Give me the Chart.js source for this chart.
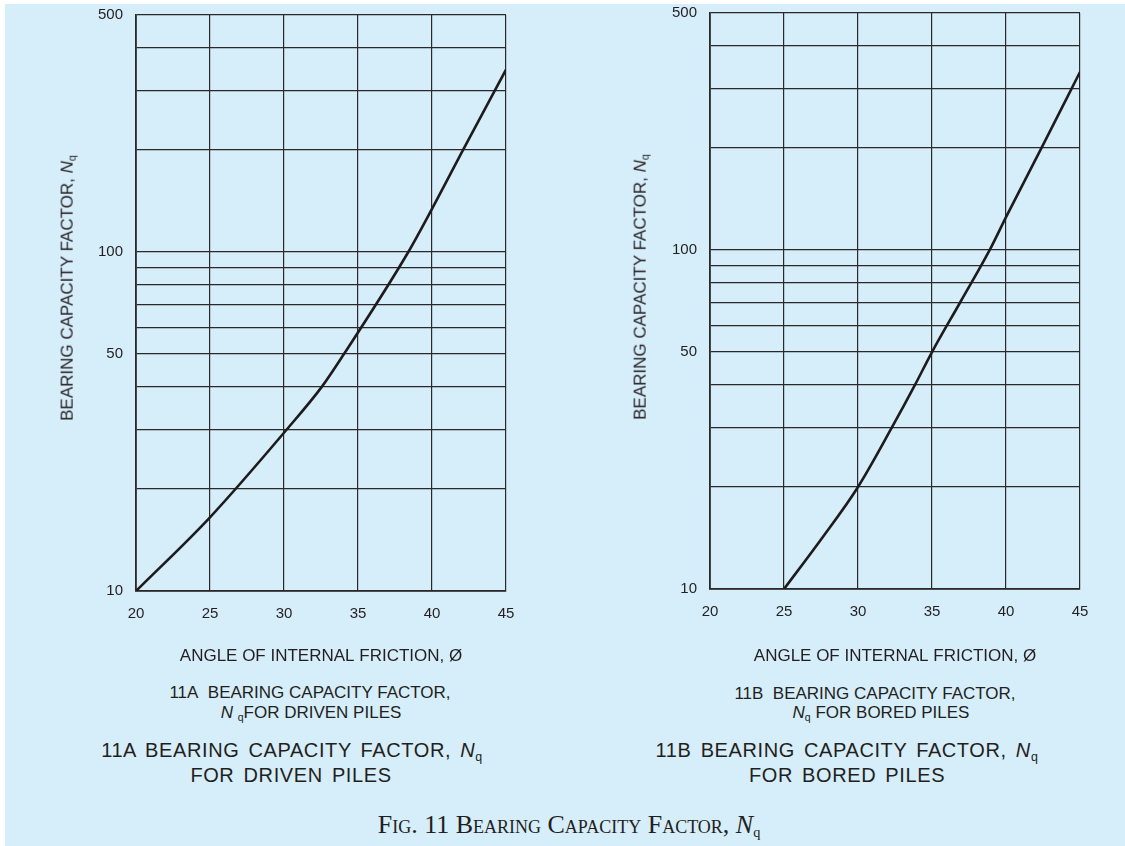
<!DOCTYPE html>
<html>
<head>
<meta charset="utf-8">
<script src="https://cdn.jsdelivr.net/npm/chart.js@4.4.0/dist/chart.umd.min.js"></script>
<style>
  html, body { margin: 0; padding: 0; background: #fff; }
  body { width: 1125px; height: 846px; position: relative; overflow: hidden;
         font-family: "Liberation Sans", Arial, sans-serif; color: #231f20; }
  #bg { position: absolute; left: 5px; top: 4px; right: 0; bottom: 0; background: #d6edfa; }
  canvas { position: absolute; top: 0; }
  .t { position: absolute; white-space: nowrap; line-height: 1; transform: translate(-50%, -50%); }
  .ytitle { font-size: 17px; transform: translate(-50%, -50%) rotate(-90deg); }
  .small { font-size: 17px; }
  .big { font-size: 20px; letter-spacing: 0.6px; word-spacing: 3px; }
  .t sub { font-size: 62%; vertical-align: -0.3em; font-style: normal; font-variant: normal; }
  .cap { font-family: "Liberation Serif", "Times New Roman", serif; font-variant: small-caps; font-size: 26px; }
  .cap sub { font-family: "Liberation Serif", "Times New Roman", serif; font-size: 55%; }
</style>
</head>
<body>
<div id="bg"></div>
<canvas id="driven" width="560" height="680" style="left:0px"></canvas>
<canvas id="bored" width="560" height="680" style="left:565px"></canvas>

<div class="t ytitle" style="left:68px; top:288px">BEARING CAPACITY FACTOR, <i>N</i><sub>q</sub></div>
<div class="t ytitle" style="left:641px; top:287px">BEARING CAPACITY FACTOR, <i>N</i><sub>q</sub></div>

<div class="t small" style="left:310px; top:692px">11A&nbsp; BEARING CAPACITY FACTOR,</div>
<div class="t small" style="left:311px; top:713px"><i>N</i> <sub>q</sub>FOR DRIVEN PILES</div>
<div class="t big" style="left:292px; top:752px">11A BEARING CAPACITY FACTOR, <i>N</i><sub>q</sub></div>
<div class="t big" style="left:291px; top:775px">FOR DRIVEN PILES</div>

<div class="t small" style="left:875px; top:693px">11B&nbsp; BEARING CAPACITY FACTOR,</div>
<div class="t small" style="left:881px; top:713px"><i>N</i><sub>q</sub> FOR BORED PILES</div>
<div class="t big" style="left:847px; top:752px">11B BEARING CAPACITY FACTOR, <i>N</i><sub>q</sub></div>
<div class="t big" style="left:847px; top:775px">FOR BORED PILES</div>

<div class="t cap" style="left:569px; top:826px">Fig. 11 Bearing Capacity Factor, <i>N</i><sub>q</sub></div>

<script>
// angle of internal friction (deg) and Nq
const drivenAngle = [20, 25, 30.2, 32.55, 34.05, 38.4, 40, 42.1, 45];
const drivenNq    = [10, 16.5, 30, 40, 50, 100, 134, 200, 345];

const boredAngle = [25, 27.5, 30, 32.3, 33.85, 35, 36.9, 38.9, 40, 42.4, 45];
const boredNq    = [10, 14, 20, 30, 40, 50, 70, 100, 125, 200, 335];

const angleTicks = [20, 25, 30, 35, 40, 45];
const nqGrid = [10, 20, 30, 40, 50, 60, 70, 80, 90, 100, 200, 300, 400, 500];
const nqLabels = [10, 50, 100, 500];

const FONT = '"Liberation Sans", Arial, sans-serif';
const TXT = '#231f20';
const GRID = '#2b2829';

function buildChart(id, angle, nq, axisW, padRight, padTop, axisH) {
  const points = angle.map((a, i) => ({ x: a, y: nq[i] }));
  return new Chart(document.getElementById(id), {
    type: 'line',
    data: {
      datasets: [{
        data: points,
        borderColor: '#1e1b1c',
        borderWidth: 2.6,
        pointRadius: 0,
        fill: false,
        cubicInterpolationMode: 'monotone',
      }],
    },
    options: {
      responsive: false,
      animation: false,
      layout: { padding: { top: padTop, right: padRight, left: 0, bottom: 0 } },
      plugins: { legend: { display: false }, tooltip: { enabled: false } },
      scales: {
        x: {
          type: 'linear',
          min: 20,
          max: 45,
          afterBuildTicks: (s) => { s.ticks = angleTicks.map(v => ({ value: v })); },
          afterFit: (s) => { s.height = axisH; s.paddingLeft = 0; s.paddingRight = 0; },
          grid: { color: GRID, lineWidth: 1.2, drawTicks: false },
          border: { color: GRID, width: 1.8 },
          ticks: { padding: 14, color: TXT, font: { family: FONT, size: 15 } },
          title: {
            display: true,
            text: 'ANGLE OF INTERNAL FRICTION, Ø',
            color: TXT,
            font: { family: FONT, size: 17 },
            padding: { top: 0, bottom: 13 },
          },
        },
        y: {
          type: 'logarithmic',
          min: 10,
          max: 500,
          afterBuildTicks: (s) => { s.ticks = nqGrid.map(v => ({ value: v })); },
          // fixed axis width, and no extra room for the top label so the plot top sits where the padding says
          afterFit: (s) => { s.width = axisW; s.paddingTop = 0; s.paddingBottom = 0; },
          grid: { color: GRID, lineWidth: 1.2, drawTicks: false },
          border: { color: GRID, width: 1.8 },
          ticks: {
            padding: 13,
            autoSkip: false,
            color: TXT,
            font: { family: FONT, size: 15 },
            callback: (v) => nqLabels.includes(v) ? String(v) : '',
          },
        },
      },
    },
  });
}

buildChart('driven', drivenAngle, drivenNq, 136, 54, 15, 89);
buildChart('bored', boredAngle, boredNq, 145, 45, 13, 91);
</script>
</body>
</html>
